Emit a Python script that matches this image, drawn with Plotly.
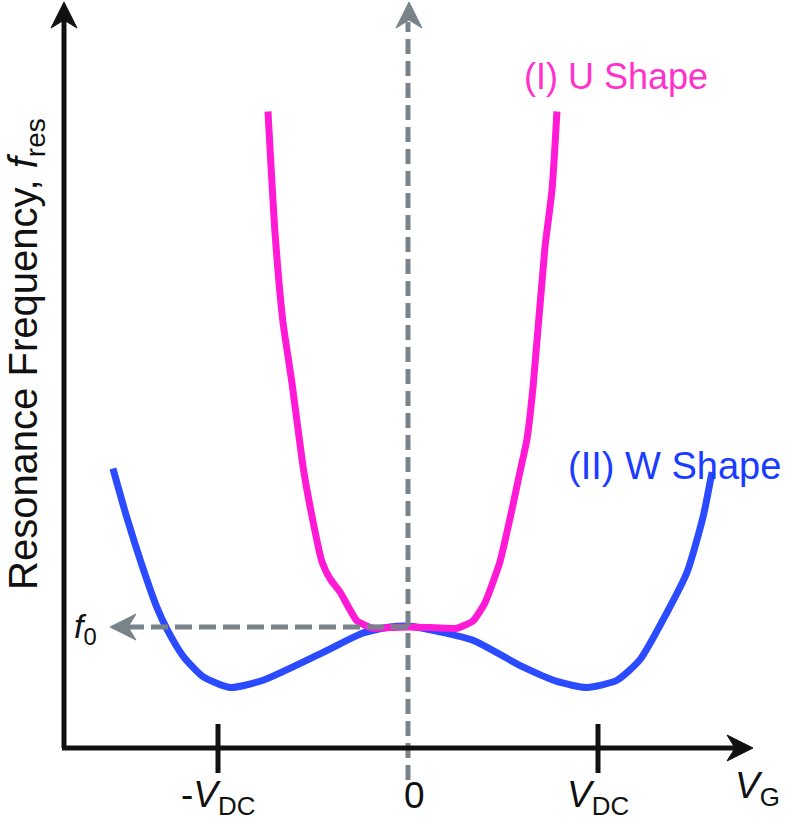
import plotly.graph_objects as go

# ---------------- data (V_G in units of V_DC, f_res relative to the x axis) ----------------
vg_u = [-0.737, -0.700, -0.658, -0.611, -0.553, -0.516, -0.453, -0.411, -0.358, -0.268,
        -0.184, -0.095, 0.0, 0.116, 0.258, 0.342, 0.405, 0.484, 0.547, 0.589, 0.626,
        0.658, 0.721, 0.758, 0.784]
f_u = [5.26, 4.26, 3.52, 3.02, 2.33, 2.00, 1.54, 1.40, 1.29, 1.05,
       0.99, 0.995, 1.000, 0.995, 0.99, 1.05, 1.20, 1.54, 1.97, 2.28, 2.55,
       2.98, 4.14, 4.61, 5.26]

vg_w = [-1.553, -1.479, -1.400, -1.321, -1.268, -1.184, -1.079, -0.937, -0.763, -0.447,
        -0.237, -0.095, 0.0, 0.168, 0.342, 0.605, 0.784, 0.942, 1.100, 1.221, 1.363,
        1.468, 1.553, 1.600]
f_w = [2.31, 1.90, 1.51, 1.16, 0.98, 0.76, 0.59, 0.50, 0.56, 0.79,
       0.95, 1.000, 1.008, 0.96, 0.89, 0.67, 0.55, 0.50, 0.56, 0.73, 1.12,
       1.45, 1.91, 2.28]

tick_vals = [-1, 0, 1]
tick_labels = ["-<i>V</i><sub>DC</sub>", "0", "<i>V</i><sub>DC</sub>"]
f0_value = 1.0
label_u = "(I) U Shape"
label_w = "(II) W Shape"
y_title = "Resonance Frequency, <i>f</i><sub>res</sub>"
x_title = "<i>V</i><sub>G</sub>"
f0_label = "<i>f</i><sub>0</sub>"

# ---------------- layout geometry (pixels) ----------------
W, H = 793, 830
X0_PX, SX = 408.0, 190.0     # pixel of V_G=0, pixels per V_DC
Y0_PX, SY = 748.0, 121.0     # pixel of the x axis, pixels per f0

def X(px):
    return (px - X0_PX) / SX

def Y(py):
    return (Y0_PX - py) / SY

PINK = "#ff1ad6"
BLUE = "#2a4bff"
GRAY = "#78838a"
BLACK = "#111111"
FONT = "Liberation Sans, Arial, sans-serif"

fig = go.Figure()
fig.add_trace(go.Scatter(x=vg_w, y=f_w, mode="lines",
                         line=dict(color=BLUE, width=7, shape="spline", smoothing=0.6),
                         hoverinfo="skip"))
fig.add_trace(go.Scatter(x=vg_u, y=f_u, mode="lines",
                         line=dict(color=PINK, width=7, shape="spline", smoothing=0.5),
                         hoverinfo="skip"))

shapes = []

def line(x0, y0, x1, y1, color, width, dash=None):
    d = dict(type="line", xref="x", yref="y", x0=X(x0), y0=Y(y0), x1=X(x1), y1=Y(y1),
             line=dict(color=color, width=width))
    if dash:
        d["line"]["dash"] = dash
    shapes.append(d)

def head(tip, direction, color, length=26, half=13, notch=8):
    tx, ty = tip
    if direction == "up":
        pts = [(tx, ty), (tx + half, ty + length), (tx, ty + length - notch), (tx - half, ty + length)]
    elif direction == "right":
        pts = [(tx, ty), (tx - length, ty + half), (tx - length + notch, ty), (tx - length, ty - half)]
    else:  # left
        pts = [(tx, ty), (tx + length, ty - half), (tx + length - notch, ty), (tx + length, ty + half)]
    path = "M " + " L ".join(f"{X(a):.5f},{Y(b):.5f}" for a, b in pts) + " Z"
    shapes.append(dict(type="path", xref="x", yref="y", path=path,
                       fillcolor=color, line=dict(color=color, width=1)))

# dashed guides
x_zero_px = X0_PX + tick_vals[1] * SX
f0_py = Y0_PX - f0_value * SY
line(x_zero_px, Y0_PX + 32, x_zero_px, 22, GRAY, 5, dash="15px,7px")
line(x_zero_px, f0_py, 128, f0_py, GRAY, 5, dash="17px,7px")
head((x_zero_px + 1, 2), "up", GRAY)
head((110, f0_py), "left", GRAY)

# axes
line(64, Y0_PX, 64, 18, BLACK, 5)
line(62, Y0_PX, 740, Y0_PX, BLACK, 5)
head((64, 2), "up", BLACK)
head((753, Y0_PX), "right", BLACK)

# ticks
for tv in (tick_vals[0], tick_vals[2]):
    tp = X0_PX + tv * SX
    line(tp, Y0_PX - 24, tp, Y0_PX + 25, BLACK, 5)

annotations = []

def text(px, py, s, size, color=BLACK, xanchor="center", yanchor="middle", angle=0):
    annotations.append(dict(x=X(px), y=Y(py), xref="x", yref="y", text=s, showarrow=False,
                            font=dict(size=size, color=color, family=FONT),
                            xanchor=xanchor, yanchor=yanchor, textangle=angle))

for tv, tl in zip(tick_vals, tick_labels):
    tp = X0_PX + tv * SX
    if tv == 0:
        text(tp + 6, Y0_PX + 47, tl, 37)
    else:
        text(tp, Y0_PX + 49, tl, 37)
text(757, Y0_PX + 40, x_title, 37)
text(72, 628, f0_label, 34, xanchor="left")
text(522, 76, label_u, 36, color="#ff33cc", xanchor="left")
text(566, 466, label_w, 38, color="#1a3cff", xanchor="left")
text(26, 354, y_title, 40, angle=-90)

fig.update_layout(
    width=W, height=H, margin=dict(l=0, r=0, t=0, b=0),
    paper_bgcolor="white", plot_bgcolor="white", showlegend=False,
    xaxis=dict(range=[X(0), X(W)], visible=False, fixedrange=True),
    yaxis=dict(range=[Y(H), Y(0)], visible=False, fixedrange=True),
    shapes=shapes, annotations=annotations,
)
fig.write_html("out.html", config={"displayModeBar": False},
               post_script="document.body.style.margin='0';document.body.style.overflow='hidden';")
